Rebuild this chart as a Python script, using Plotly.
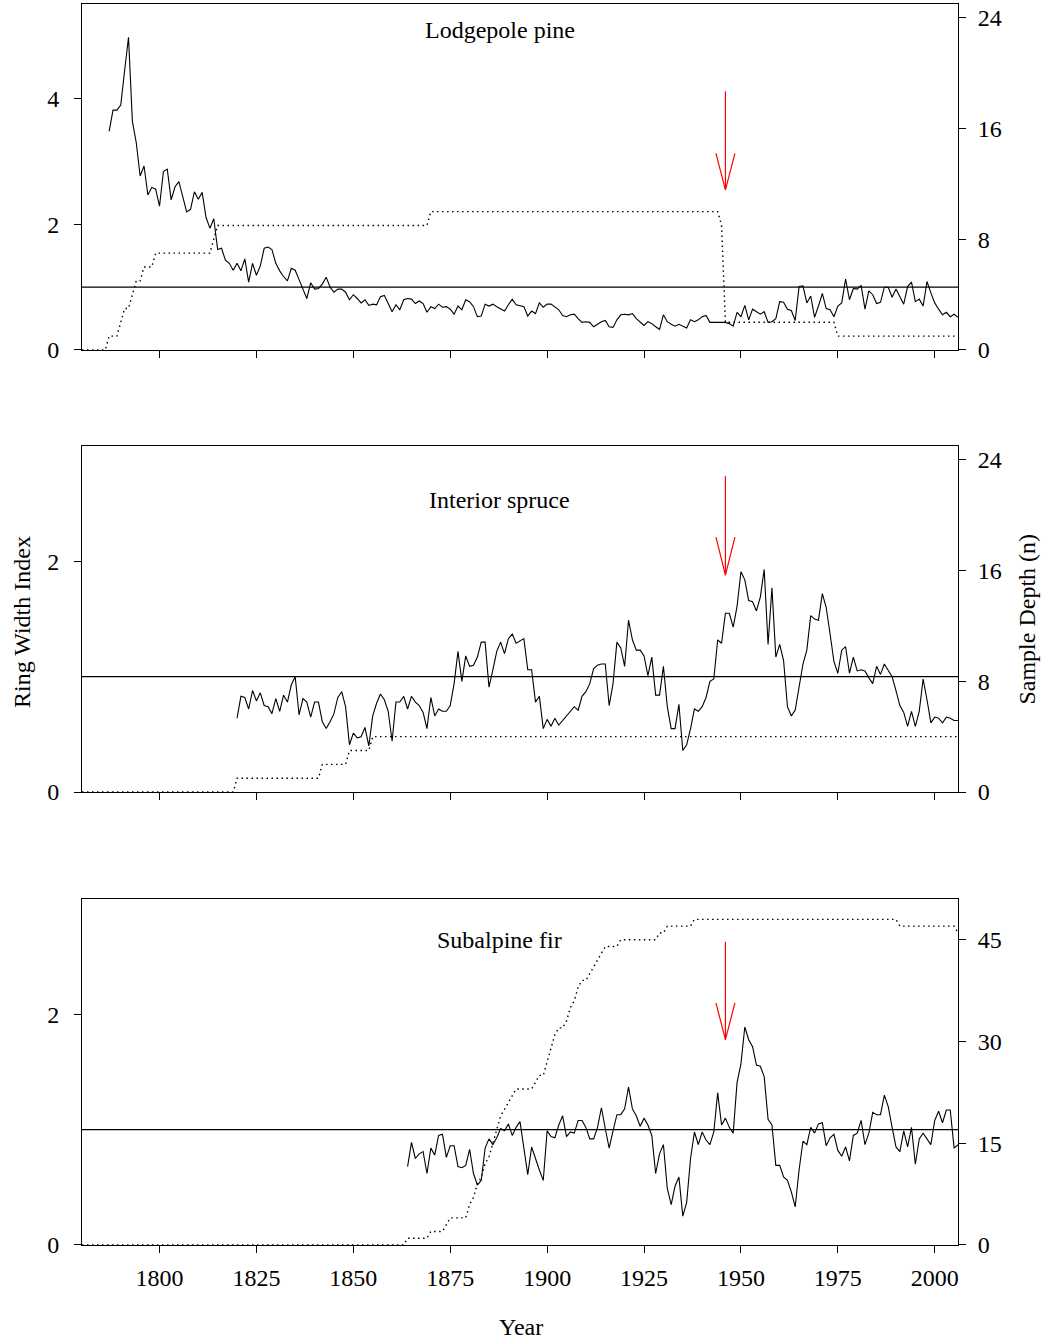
import plotly.graph_objects as go

# ---------------- data ----------------
x_range = [1780, 2006]
year_ticks = [1800, 1825, 1850, 1875, 1900, 1925, 1950, 1975, 2000]

# Lodgepole pine ring width index (1787-2006)
years_lp = list(range(1787, 2007))
rwi_lp = [
    3.48, 3.82, 3.82, 3.90, 4.45, 4.98, 3.64, 3.30, 2.77, 2.93,
    2.47, 2.59, 2.56, 2.29, 2.84, 2.88, 2.39, 2.60, 2.68, 2.44,
    2.20, 2.24, 2.52, 2.40, 2.51, 2.11, 1.94, 2.09, 1.60, 1.62,
    1.43, 1.38, 1.27, 1.38, 1.26, 1.45, 1.08, 1.38, 1.19, 1.34,
    1.62, 1.64, 1.60, 1.38, 1.26, 1.17, 1.10, 1.30, 1.27, 1.12,
    0.96, 0.82, 1.07, 0.97, 0.98, 1.05, 1.16, 1.00, 0.92, 0.97,
    0.97, 0.92, 0.80, 0.88, 0.82, 0.75, 0.80, 0.71, 0.73, 0.72,
    0.85, 0.87, 0.74, 0.61, 0.72, 0.64, 0.80, 0.82, 0.81, 0.74,
    0.78, 0.74, 0.60, 0.69, 0.66, 0.73, 0.68, 0.69, 0.65, 0.57,
    0.70, 0.64, 0.80, 0.77, 0.69, 0.53, 0.54, 0.73, 0.70, 0.73,
    0.69, 0.66, 0.62, 0.72, 0.81, 0.72, 0.71, 0.69, 0.54, 0.62,
    0.58, 0.75, 0.68, 0.73, 0.73, 0.69, 0.64, 0.55, 0.53, 0.56,
    0.57, 0.50, 0.44, 0.45, 0.44, 0.37, 0.41, 0.45, 0.47, 0.37,
    0.36, 0.48, 0.56, 0.57, 0.56, 0.58, 0.50, 0.45, 0.39, 0.45,
    0.42, 0.37, 0.33, 0.56, 0.45, 0.41, 0.38, 0.41, 0.38, 0.35,
    0.48, 0.45, 0.48, 0.53, 0.55, 0.44, 0.44, 0.44, 0.44, 0.44,
    0.42, 0.38, 0.60, 0.53, 0.71, 0.48, 0.65, 0.61, 0.57, 0.61,
    0.44, 0.45, 0.50, 0.77, 0.76, 0.65, 0.63, 0.47, 1.01, 1.02,
    0.75, 0.86, 0.52, 0.70, 0.90, 0.66, 0.64, 0.53, 0.70, 0.75,
    1.13, 0.80, 0.98, 0.97, 1.03, 0.65, 0.94, 0.88, 0.74, 0.76,
    1.00, 1.00, 0.84, 0.97, 0.85, 0.73, 1.01, 1.08, 0.77, 0.81,
    0.70, 1.09, 0.91, 0.75, 0.65, 0.56, 0.60, 0.53, 0.57, 0.52,
]
# Lodgepole pine sample depth (years where the count changes)
depth_years_lp = [1780, 1786, 1787, 1789, 1790, 1791, 1792, 1793, 1794, 1795,
                  1796, 1798, 1799, 1813, 1814, 1815, 1869, 1870, 1944, 1945,
                  1946, 1974, 1975, 2006]
depth_lp = [0, 0, 1, 1, 2, 3, 3, 4, 5, 5,
            6, 6, 7, 7, 8, 9, 9, 10, 10, 9,
            2, 2, 1, 1]

# Interior spruce ring width index (1820-2006)
years_sp = list(range(1820, 2007))
rwi_sp = [
    0.64, 0.83, 0.82, 0.72, 0.88, 0.79, 0.86, 0.75, 0.74, 0.68,
    0.81, 0.70, 0.84, 0.78, 0.93, 1.00, 0.67, 0.81, 0.78, 0.65,
    0.78, 0.78, 0.61, 0.55, 0.61, 0.68, 0.82, 0.87, 0.74, 0.41,
    0.51, 0.47, 0.48, 0.56, 0.40, 0.66, 0.77, 0.85, 0.80, 0.70,
    0.44, 0.78, 0.78, 0.83, 0.72, 0.83, 0.78, 0.75, 0.69, 0.55,
    0.82, 0.66, 0.72, 0.70, 0.70, 0.75, 0.94, 1.22, 0.96, 1.18,
    1.09, 1.10, 1.17, 1.30, 1.30, 0.91, 1.06, 1.22, 1.30, 1.20,
    1.33, 1.37, 1.29, 1.31, 1.33, 1.06, 1.06, 0.78, 0.83, 0.55,
    0.63, 0.57, 0.64, 0.58, 0.62, 0.66, 0.70, 0.74, 0.71, 0.83,
    0.87, 0.94, 1.07, 1.10, 1.11, 1.11, 0.75, 0.94, 1.30, 1.25,
    1.09, 1.49, 1.32, 1.23, 1.23, 1.18, 1.01, 1.17, 0.84, 0.84,
    1.09, 0.74, 0.55, 0.55, 0.76, 0.36, 0.41, 0.55, 0.72, 0.70,
    0.74, 0.82, 0.96, 0.98, 1.32, 1.29, 1.55, 1.55, 1.43, 1.61,
    1.91, 1.84, 1.66, 1.65, 1.57, 1.69, 1.93, 1.28, 1.77, 1.17,
    1.28, 1.14, 0.74, 0.66, 0.71, 0.90, 1.11, 1.23, 1.53, 1.50,
    1.49, 1.72, 1.60, 1.37, 1.13, 1.03, 1.23, 1.26, 1.03, 1.17,
    1.05, 1.06, 1.05, 0.99, 0.94, 1.09, 1.02, 1.11, 1.05, 1.00,
    0.88, 0.75, 0.69, 0.57, 0.70, 0.57, 0.70, 0.98, 0.80, 0.60,
    0.65, 0.64, 0.60, 0.65, 0.64, 0.62, 0.62,
]
depth_years_sp = [1780, 1819, 1820, 1841, 1842, 1848, 1849, 1854, 1855, 2006]
depth_sp = [0, 0, 1, 1, 2, 2, 3, 3, 4, 4]

# Subalpine fir ring width index (1864-2006)
years_fir = list(range(1864, 2007))
rwi_fir = [
    0.68, 0.89, 0.75, 0.79, 0.81, 0.62, 0.84, 0.78, 0.95, 0.96,
    0.76, 0.86, 0.86, 0.68, 0.67, 0.69, 0.83, 0.62, 0.52, 0.56,
    0.84, 0.92, 0.87, 0.93, 1.01, 0.99, 1.05, 0.95, 1.02, 1.07,
    0.84, 0.61, 0.85, 0.74, 0.65, 0.56, 0.99, 0.94, 0.93, 1.04,
    1.12, 0.94, 0.98, 0.97, 1.08, 1.08, 1.02, 0.92, 0.92, 1.02,
    1.19, 1.01, 0.84, 0.99, 1.13, 1.13, 1.18, 1.37, 1.18, 1.12,
    1.03, 1.10, 1.04, 0.95, 0.62, 0.79, 0.87, 0.49, 0.35, 0.51,
    0.59, 0.25, 0.37, 0.75, 0.98, 0.87, 0.98, 0.91, 0.87, 0.98,
    1.32, 1.04, 1.10, 1.02, 0.97, 1.41, 1.57, 1.89, 1.78, 1.72,
    1.56, 1.55, 1.46, 1.09, 1.04, 0.69, 0.69, 0.59, 0.56, 0.46,
    0.33, 0.65, 0.90, 0.87, 1.02, 0.97, 1.05, 1.06, 0.86, 0.93,
    0.96, 0.82, 0.77, 0.85, 0.73, 0.95, 0.97, 1.08, 0.87, 0.97,
    1.15, 1.13, 1.13, 1.30, 1.20, 1.02, 0.85, 0.81, 0.99, 0.85,
    1.02, 0.70, 0.92, 0.97, 0.92, 0.87, 1.08, 1.16, 1.06, 1.17,
    1.17, 0.84, 0.87,
]
depth_years_fir = [1780, 1863, 1864, 1869, 1870, 1873, 1874, 1875, 1879, 1880,
                   1881, 1882, 1883, 1884, 1885, 1886, 1887, 1888, 1889, 1890,
                   1891, 1892, 1896, 1897, 1898, 1899, 1900, 1901, 1902, 1903,
                   1904, 1905, 1906, 1907, 1908, 1909, 1910, 1911, 1912, 1913,
                   1914, 1915, 1918, 1919, 1928, 1929, 1930, 1931, 1937, 1938,
                   1990, 1991, 2005, 2006]
depth_fir = [0, 0, 1, 1, 2, 2, 3, 4, 4, 6,
             7, 9, 10, 12, 13, 15, 17, 19, 20, 21,
             22, 23, 23, 24, 25, 25, 27, 29, 31, 32,
             32, 33, 35, 36, 38, 39, 39, 40, 41, 42,
             43, 44, 44, 45, 45, 46, 46, 47, 47, 48,
             48, 47, 47, 46]

species = ["Lodgepole pine", "Interior spruce", "Subalpine fir"]
rwi_ranges = [[0, 5.51], [0, 3], [0, 3]]
rwi_ticks = [[0, 2, 4], [0, 2], [0, 2]]
depth_ranges = [[0, 25], [0, 25], [0, 51]]
depth_ticks = [[0, 8, 16, 24], [0, 8, 16, 24], [0, 15, 30, 45]]
reference_index = 1.0

# red arrows marking 1946
arrow_year = 1946
arrow_top = [4.12, 2.74, 2.63]
arrow_tip = [2.55, 1.88, 1.78]
arrow_head_base = [3.13, 2.21, 2.10]
arrow_head_halfwidth = 2.45  # years

# ---------------- figure ----------------
series = [
    (years_lp, rwi_lp, depth_years_lp, depth_lp),
    (years_sp, rwi_sp, depth_years_sp, depth_sp),
    (years_fir, rwi_fir, depth_years_fir, depth_fir),
]
domains = [[0.7212, 1.0], [0.365, 0.6438], [0.0, 0.2788]]
title_pos = [0.925, 0.844, 0.881]

FONT = "Liberation Serif"
fig = go.Figure()
shapes = []
annotations = []
layout_axes = {}

for i, (yrs, rwi, dyrs, dep) in enumerate(series):
    xa = "x" if i == 0 else f"x{i + 1}"
    yl = "y" if i == 0 else f"y{2 * i + 1}"
    yr = f"y{2 * i + 2}"
    xkey = "xaxis" if i == 0 else f"xaxis{i + 1}"
    ylkey = "yaxis" if i == 0 else f"yaxis{2 * i + 1}"
    yrkey = f"yaxis{2 * i + 2}"

    fig.add_trace(go.Scatter(x=dyrs, y=dep, mode="lines", xaxis=xa, yaxis=yr,
                             line=dict(color="black", width=1.4, dash="1.5px,3.5px"),
                             showlegend=False, hoverinfo="skip"))
    fig.add_trace(go.Scatter(x=yrs, y=rwi, mode="lines", xaxis=xa, yaxis=yl,
                             line=dict(color="black", width=1.1),
                             showlegend=False))
    # arrow shaft and head
    fig.add_trace(go.Scatter(
        x=[arrow_year, arrow_year, None,
           arrow_year - arrow_head_halfwidth, arrow_year, arrow_year + arrow_head_halfwidth],
        y=[arrow_top[i], arrow_tip[i], None,
           arrow_head_base[i], arrow_tip[i], arrow_head_base[i]],
        mode="lines", xaxis=xa, yaxis=yl,
        line=dict(color="red", width=1.2), showlegend=False, hoverinfo="skip"))

    shapes.append(dict(type="line", xref=f"{xa} domain", yref=yl,
                       x0=0, x1=1, y0=reference_index, y1=reference_index,
                       line=dict(color="black", width=1.2)))
    annotations.append(dict(text=species[i], xref="paper", yref=f"{yl} domain",
                            x=0.477, y=title_pos[i], xanchor="center", yanchor="middle",
                            showarrow=False,
                            font=dict(family=FONT, size=24, color="black")))

    layout_axes[xkey] = dict(domain=[0, 1], anchor=yl, range=x_range,
                             tickvals=year_ticks, showticklabels=(i == 2),
                             ticks="outside", ticklen=7, tickcolor="black",
                             showline=True, mirror=True, linecolor="black", linewidth=1,
                             showgrid=False, zeroline=False,
                             ticklabelstandoff=4,
                             tickfont=dict(family=FONT, size=24, color="black"))
    layout_axes[ylkey] = dict(domain=domains[i], anchor=xa, range=rwi_ranges[i],
                              tickvals=rwi_ticks[i], ticks="outside", ticklen=7,
                              tickcolor="black", showline=True, linecolor="black",
                              linewidth=1, showgrid=False, zeroline=False,
                              ticklabelstandoff=10,
                              tickfont=dict(family=FONT, size=24, color="black"))
    layout_axes[yrkey] = dict(overlaying=yl, side="right", anchor=xa,
                              range=depth_ranges[i], tickvals=depth_ticks[i],
                              ticks="outside", ticklen=7, tickcolor="black",
                              showline=True, linecolor="black", linewidth=1,
                              showgrid=False, zeroline=False,
                              ticklabelstandoff=7,
                              tickfont=dict(family=FONT, size=24, color="black"))

annotations += [
    dict(text="Ring Width Index", xref="paper", yref="paper", x=-0.0685, y=0.502,
         xanchor="center", yanchor="middle", textangle=-90, showarrow=False,
         font=dict(family=FONT, size=24, color="black")),
    dict(text="Sample Depth (n)", xref="paper", yref="paper", x=1.0788, y=0.504,
         xanchor="center", yanchor="middle", textangle=-90, showarrow=False,
         font=dict(family=FONT, size=24, color="black")),
    dict(text="Year", xref="paper", yref="paper", x=0.501, y=-0.066,
         xanchor="center", yanchor="middle", showarrow=False,
         font=dict(family=FONT, size=24, color="black")),
]

fig.update_layout(width=1047, height=1339,
                  margin=dict(l=82, r=89, t=4, b=94),
                  paper_bgcolor="white", plot_bgcolor="white",
                  shapes=shapes, annotations=annotations,
                  font=dict(family=FONT, color="black"),
                  **layout_axes)

fig.write_html("out.html",
               config={"displayModeBar": False},
               post_script="document.body.style.margin='0px';")
